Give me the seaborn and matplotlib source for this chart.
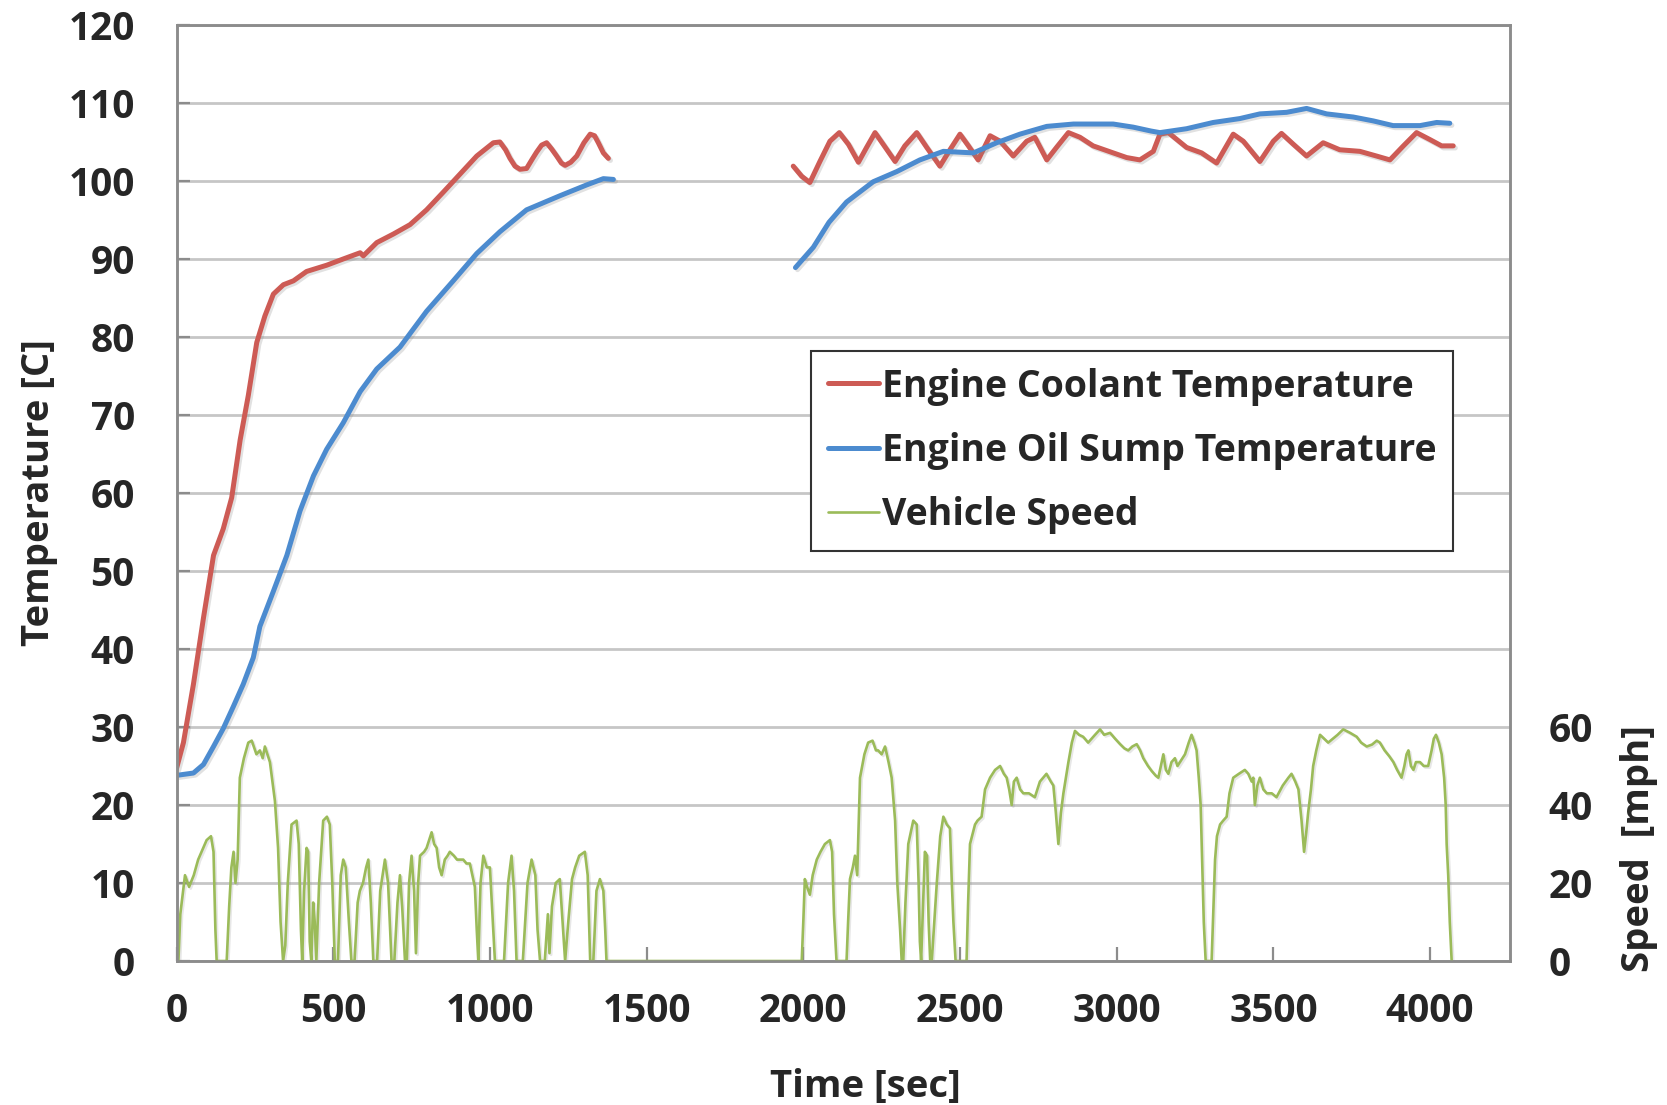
import numpy as np
import pandas as pd
import matplotlib
matplotlib.use("Agg")
import matplotlib.pyplot as plt
import matplotlib.patheffects as pe
from matplotlib.lines import Line2D
import seaborn as sns

# ---------------- data ----------------
coolant_t1 = [0, 22, 54, 86, 118, 149, 176, 203, 229, 256, 282, 309, 341, 373, 415, 479, 532,
              586, 596, 639, 692, 745, 798, 852, 905, 958, 1011, 1032, 1050, 1064, 1080, 1096,
              1117, 1135, 1149, 1165, 1181, 1197, 1213, 1228, 1240, 1258, 1277, 1300, 1320,
              1334, 1346, 1362, 1378]
coolant_v1 = [24.7, 28, 35.5, 44, 52, 55.4, 59.4, 66.8, 72.5, 79.3, 82.7, 85.5, 86.7, 87.2, 88.4,
              89.2, 90, 90.8, 90.4, 92.1, 93.2, 94.4, 96.3, 98.6, 100.9, 103.2, 104.9, 105, 104,
              102.9, 101.9, 101.5, 101.6, 102.8, 103.7, 104.6, 104.9, 104.1, 103.2, 102.3, 102,
              102.4, 103.2, 104.9, 106, 105.8, 104.9, 103.6, 102.9]
coolant_t2 = [1968, 1995, 2021, 2053, 2085, 2115, 2144, 2176, 2202, 2229, 2255, 2293, 2324, 2362,
              2394, 2436, 2468, 2500, 2527, 2558, 2596, 2628, 2670, 2713, 2739, 2777, 2808, 2846,
              2883, 2925, 2989, 3032, 3074, 3117, 3138, 3165, 3223, 3271, 3319, 3372, 3404, 3457,
              3500, 3526, 3564, 3606, 3659, 3712, 3776, 3829, 3872, 3915, 3957, 4000, 4037, 4074]
coolant_v2 = [101.9, 100.6, 99.8, 102.5, 105.1, 106.2, 104.7, 102.4, 104.3, 106.2, 104.7, 102.5,
              104.5, 106.2, 104.3, 101.9, 104, 106, 104.5, 102.7, 105.8, 105.1, 103.2, 105.1,
              105.6, 102.7, 104.3, 106.2, 105.6, 104.5, 103.6, 103, 102.7, 103.8, 106, 106.2,
              104.3, 103.6, 102.3, 106, 105.1, 102.5, 105.1, 106.1, 104.7, 103.2, 104.9, 104,
              103.8, 103.2, 102.7, 104.5, 106.2, 105.3, 104.5, 104.5]

oil_t1 = [0, 54, 86, 118, 149, 181, 213, 245, 266, 309, 352, 394, 437, 479, 532, 586, 639, 713,
          798, 883, 958, 1032, 1117, 1223, 1309, 1362, 1394]
oil_v1 = [23.8, 24.1, 25.2, 27.5, 29.8, 32.6, 35.5, 38.9, 42.9, 47.4, 52, 57.7, 62.2, 65.6, 69,
          73, 75.9, 78.7, 83.3, 87.2, 90.7, 93.5, 96.3, 98.1, 99.5, 100.3, 100.2]
oil_t2 = [1975, 2032, 2082, 2138, 2223, 2298, 2372, 2447, 2543, 2617, 2691, 2777, 2862, 2989,
          3053, 3110, 3138, 3223, 3308, 3393, 3457, 3542, 3606, 3670, 3755, 3819, 3882, 3968,
          4021, 4063]
oil_v2 = [88.9, 91.5, 94.7, 97.3, 99.9, 101.2, 102.7, 103.8, 103.6, 104.9, 106, 107, 107.3,
          107.3, 106.9, 106.4, 106.2, 106.7, 107.5, 108, 108.6, 108.8, 109.3, 108.6, 108.2,
          107.7, 107.1, 107.1, 107.5, 107.4]

speed_t = [0, 6, 12, 27, 40, 55, 69, 85, 96, 110, 118, 124, 128, 160, 168, 175, 182, 188, 195,
           202, 215, 229, 240, 255, 266, 275, 282, 298, 314, 324, 332, 340, 347, 355, 367, 383,
           390, 397, 401, 407, 415, 420, 425, 430, 436, 441, 446, 455, 468, 480, 489, 497, 505,
           515, 524, 532, 540, 550, 558, 568, 578, 585, 595, 605, 612, 620, 628, 640, 650, 665,
           675, 686, 695, 705, 713, 720, 729, 735, 742, 750, 758, 764, 771, 777, 790, 798, 806,
           814, 822, 830, 838, 846, 856, 865, 872, 885, 895, 904, 915, 925, 936, 944, 952, 958,
           963, 970, 979, 990, 1000, 1008, 1016, 1045, 1058, 1069, 1077, 1085, 1105, 1120, 1133,
           1145, 1152, 1160, 1175, 1185, 1190, 1198, 1210, 1223, 1232, 1240, 1250, 1262, 1272,
           1285, 1303, 1312, 1320, 1330, 1340, 1351, 1362, 1368, 1372,
           1995,
           2000, 2005, 2012, 2021, 2030, 2043, 2055, 2069, 2085, 2092, 2098, 2106, 2138, 2143,
           2149, 2158, 2165, 2172, 2181, 2195, 2207, 2221, 2232, 2239, 2250, 2261, 2272, 2282,
           2293, 2300, 2309, 2314, 2319, 2326, 2335, 2351, 2362, 2368, 2372, 2376, 2381, 2388,
           2395, 2400, 2405, 2410, 2418, 2426, 2437, 2447, 2458, 2468, 2474, 2479, 2486, 2521,
           2526, 2532, 2548, 2556, 2569, 2580, 2596, 2612, 2628, 2640, 2649, 2657, 2665, 2672,
           2681, 2692, 2702, 2720, 2739, 2755, 2776, 2790, 2798, 2806, 2814, 2822, 2830, 2846,
           2857, 2867, 2880, 2893, 2909, 2920, 2931, 2947, 2960, 2979, 2995, 3011, 3025, 3037,
           3050, 3064, 3075, 3085, 3100, 3112, 3125, 3133, 3141, 3149, 3157, 3165, 3175, 3186,
           3194, 3202, 3210, 3218, 3230, 3239, 3248, 3255, 3262, 3268, 3274, 3278, 3284, 3303,
           3308, 3314, 3320, 3330, 3340, 3351, 3360, 3372, 3390, 3409, 3420, 3431, 3436, 3441,
           3449, 3457, 3468, 3479, 3495, 3510, 3530, 3548, 3558, 3570, 3580, 3590, 3598, 3605,
           3611, 3620, 3627, 3637, 3649, 3662, 3675, 3690, 3705, 3723, 3745, 3766, 3780, 3798,
           3815, 3830, 3840, 3855, 3870, 3883, 3895, 3909, 3918, 3925, 3931, 3939, 3947, 3955,
           3968, 3980, 3994, 4005, 4012, 4019, 4028, 4037, 4045, 4050, 4053, 4058, 4063, 4069]
speed_v = [0, 0, 12, 22, 19, 22, 26, 29, 31, 32, 28, 8, 0, 0, 14, 24, 28, 20, 26,
           47, 52, 56, 56.5, 53, 54, 52, 55, 51, 41, 29, 10, 0, 4, 20, 35, 36,
           30, 8, 0, 18, 29, 28, 5, 0, 15, 10, 0, 20, 36, 37, 35, 20, 0,
           0, 22, 26, 24, 10, 0, 0, 15, 18, 20, 24, 26, 15, 0, 0, 18, 26,
           20, 0, 0, 15, 22, 14, 0, 0, 20, 27, 18, 2, 20, 27, 28, 29, 31,
           33, 30, 29, 24, 22, 26, 27, 28, 27, 26, 26, 26, 25, 25, 22, 19, 8,
           0, 20, 27, 24, 24, 12, 0, 0, 20, 27, 18, 0, 0, 20, 26,
           22, 8, 0, 0, 12, 2, 14, 20, 21, 10, 0, 10, 21, 24,
           27, 28, 22, 0, 0, 18, 21, 18, 8, 0,
           0,
           10, 21, 19, 17, 22, 26, 28, 30, 31, 28, 12, 0, 0, 10,
           21, 24, 27, 22, 47, 53, 56, 56.5, 54, 54, 53, 55, 51, 47,
           36, 20, 8, 0, 0, 15, 30, 36, 35, 20, 5, 0, 12, 28,
           27, 10, 0, 0, 10, 20, 32, 37, 35, 34, 20, 10, 0, 0,
           15, 30, 35, 36, 37, 44, 47, 49, 50, 48, 47, 44, 40, 46,
           47, 44, 43, 43, 42, 46, 48, 46, 45, 38, 30, 38, 43, 51,
           56, 59, 58, 57.5, 56, 57, 58, 59.4, 58, 58.5, 57, 55.6, 54.5, 54,
           55, 55.6, 54, 52, 50, 48.7, 47.5, 47, 50, 53, 49, 48, 51, 52,
           50, 51, 52, 53, 56, 58, 56, 54, 47, 40, 22, 10, 0, 0,
           12, 26, 32, 35, 36, 37, 43, 47, 48, 49, 48, 46, 47, 40,
           45, 47, 44, 43, 43, 42, 45, 47, 48, 46, 44, 36, 28, 33,
           38, 44, 50, 54, 58, 57, 56, 57, 58, 59.4, 58.5, 57.5, 56, 55,
           55.5, 56.5, 56, 54, 52.5, 51, 49, 47, 50, 53, 54, 50, 49, 51,
           51, 50, 50, 54, 57, 58, 56, 53, 47, 40, 30, 22, 10, 0]

x_ticks = [0, 500, 1000, 1500, 2000, 2500, 3000, 3500, 4000]
temp_ticks = list(range(0, 121, 10))
speed_ticks = [0, 20, 40, 60]
series_labels = ["Engine Coolant Temperature", "Engine Oil Sump Temperature", "Vehicle Speed"]

# ---------------- style ----------------
sns.set_style("white")
plt.rcParams['font.family'] = ['Open Sans', 'DejaVu Sans']
plt.rcParams['font.weight'] = 'bold'

RED = '#CD5B55'
BLUE = '#4C8BCF'
GREEN = '#9BBB59'
SPINE = '#8c8c8c'
GRID = '#c6c6c6'

fig = plt.figure(figsize=(16.67, 11.05), dpi=100)
ax = fig.add_axes([0.1059, 0.1303, 0.7997, 0.8471])
ax2 = ax.twinx()

shadow = [pe.SimpleLineShadow(offset=(1.5, -1.5), shadow_color='#888888', alpha=0.25), pe.Normal()]

for t, v in ((coolant_t1, coolant_v1), (coolant_t2, coolant_v2)):
    sns.lineplot(x=t, y=v, ax=ax, color=RED, linewidth=3.6, estimator=None,
                 path_effects=shadow)
for t, v in ((oil_t1, oil_v1), (oil_t2, oil_v2)):
    sns.lineplot(x=t, y=v, ax=ax, color=BLUE, linewidth=3.6, estimator=None,
                 path_effects=shadow)
sns.lineplot(x=speed_t, y=speed_v, ax=ax2, color=GREEN, linewidth=1.9, estimator=None,
             path_effects=[pe.SimpleLineShadow(offset=(1.2, -1.2), shadow_color='#888888', alpha=0.2), pe.Normal()])

ax.set_xlim(0, 4254)
ax.set_ylim(0, 120)
ax2.set_ylim(0, 240)
ax.set_xticks(x_ticks)
ax.set_yticks(temp_ticks)
ax2.set_yticks(speed_ticks)

ax.yaxis.grid(True, color=GRID, linewidth=2.0)
ax.xaxis.grid(False)
ax.set_axisbelow(True)
ax2.grid(False)

for a in (ax, ax2):
    for s in a.spines.values():
        s.set_visible(True)
        s.set_color(SPINE)
        s.set_linewidth(1.8)

ax.tick_params(axis='y', direction='in', length=9, width=1.6, color=SPINE,
               labelsize=28, pad=30, left=True)
ax.tick_params(axis='x', direction='in', length=10, width=1.6, color=SPINE,
               labelsize=28, pad=22, bottom=True)
ax2.tick_params(axis='y', length=0, labelsize=28, pad=28, right=True)

ax.set_xlabel("Time [sec]", fontsize=27.5, fontweight='bold')
ax.xaxis.set_label_coords(0.517, -0.114)
ax.set_ylabel("Temperature [C]", fontsize=27.5, fontweight='bold')
ax.yaxis.set_label_coords(-0.089, 0.5)
ax2.set_ylabel("Speed  [mph]", fontsize=27.5, fontweight='bold')
ax2.yaxis.set_label_coords(1.083, 0.12)

handles = [Line2D([], [], color=RED, linewidth=3.6),
           Line2D([], [], color=BLUE, linewidth=3.6),
           Line2D([], [], color=GREEN, linewidth=1.9)]
leg = ax2.legend(handles, series_labels, loc='upper left', bbox_to_anchor=(0.476, 0.652),
                 borderaxespad=0, fontsize=27, frameon=True, fancybox=False, framealpha=1,
                 edgecolor='#333333', handlelength=1.35, handletextpad=0.08,
                 labelspacing=0.7, borderpad=0.45)
leg.get_frame().set_linewidth(1.5)

fig.savefig("out.png", dpi=100)
